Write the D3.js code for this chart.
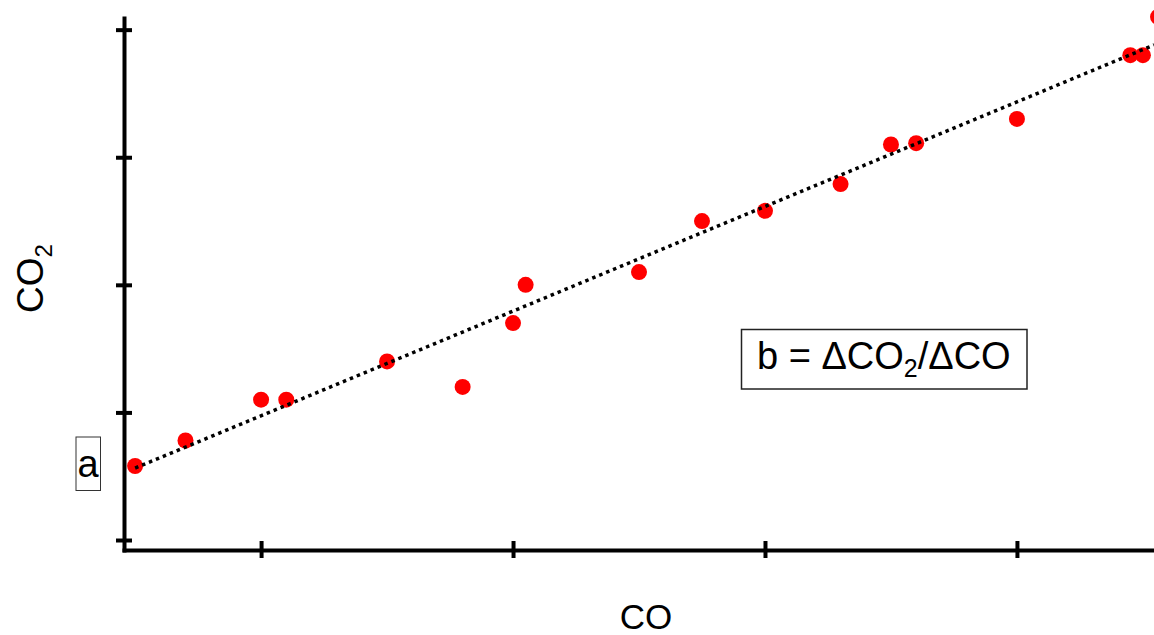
<!DOCTYPE html>
<html>
<head>
<meta charset="utf-8">
<script src="https://cdn.jsdelivr.net/npm/d3@7"></script>
<style>
  body { margin: 0; background: #fff; }
  svg { display: block; font-family: "Liberation Sans", Arial, sans-serif; }
</style>
</head>
<body>
<script>
// CO vs CO2 samples (arbitrary units)
var coValues  = [0.5, 0.7, 1.0, 1.1, 1.5, 1.8, 2.0, 2.05, 2.5, 2.75, 3.0, 3.3, 3.5, 3.6, 4.0, 4.45, 4.5, 4.56];
var co2Values = [0.58, 0.78, 1.1, 1.1, 1.4, 1.2, 1.7, 2.0, 2.1, 2.5, 2.58, 2.79, 3.1, 3.11, 3.3, 3.8, 3.8, 4.1];
var xTicks = [1, 2, 3, 4];
var yTicks = [0, 1, 2, 3, 4];
// fitted line CO2 = a + b * CO
var fitA = 0.154, fitB = 0.82;

var width = 1154, height = 635;

var svg = d3.select("body").append("svg")
    .attr("width", width)
    .attr("height", height);

var x = d3.scaleLinear().domain([0.448, 4.544]).range([122, 1154]);
var y = d3.scaleLinear().domain([-0.094, 4.107]).range([552, 16]);

// y axis, ticks cross the line
var yAxis = svg.append("g")
    .attr("transform", "translate(124,0)")
    .call(d3.axisLeft(y).tickValues(yTicks).tickSizeInner(8).tickSizeOuter(0).tickFormat(""));
yAxis.select(".domain").attr("stroke-width", 4);
yAxis.selectAll(".tick line").attr("x1", 8).attr("stroke-width", 4);

// x axis
var xAxis = svg.append("g")
    .attr("transform", "translate(0,550)")
    .call(d3.axisBottom(x).tickValues(xTicks).tickSizeInner(8).tickSizeOuter(0).tickFormat(""));
xAxis.select(".domain").attr("stroke-width", 4);
xAxis.selectAll(".tick line").attr("y1", -9).attr("stroke-width", 4);

var points = coValues.map(function(d, i) { return {co: d, co2: co2Values[i]}; });

svg.append("g").selectAll("circle")
    .data(points)
  .enter().append("circle")
    .attr("cx", function(d) { return x(d.co); })
    .attr("cy", function(d) { return y(d.co2); })
    .attr("r", 8)
    .attr("fill", "#ff0000");

// dotted regression line
var fitX = [0.5, 4.544];
svg.append("path")
    .datum(fitX)
    .attr("fill", "none")
    .attr("stroke", "#000")
    .attr("stroke-width", 3.5)
    .attr("stroke-dasharray", "3.5,4")
    .attr("d", d3.line()
        .x(function(d) { return x(d); })
        .y(function(d) { return y(fitA + fitB * d); }));

// axis titles
svg.append("text")
    .attr("x", 646)
    .attr("y", 629)
    .attr("text-anchor", "middle")
    .attr("font-size", 35)
    .text("CO");

var yTitle = svg.append("text")
    .attr("transform", "translate(43,313) rotate(-90)")
    .attr("font-size", 37);
yTitle.append("tspan").text("CO");
yTitle.append("tspan").attr("font-size", 24).attr("dy", 9).text("2");

// "a" intercept label
svg.append("rect")
    .attr("x", 76).attr("y", 437)
    .attr("width", 24.5).attr("height", 53.5)
    .attr("fill", "none")
    .attr("stroke", "#333")
    .attr("stroke-width", 1);
svg.append("text")
    .attr("x", 88)
    .attr("y", 477)
    .attr("text-anchor", "middle")
    .attr("font-size", 38)
    .text("a");

// slope label
svg.append("rect")
    .attr("x", 741.5).attr("y", 329.5)
    .attr("width", 285.5).attr("height", 59.5)
    .attr("fill", "none")
    .attr("stroke", "#222")
    .attr("stroke-width", 1.5);
var slope = svg.append("text")
    .attr("x", 757)
    .attr("y", 369)
    .attr("font-size", 38);
slope.append("tspan").text("b = \u0394CO");
slope.append("tspan").attr("font-size", 25).attr("dy", 8).text("2");
slope.append("tspan").attr("dy", -8).text("/\u0394CO");
</script>
</body>
</html>
